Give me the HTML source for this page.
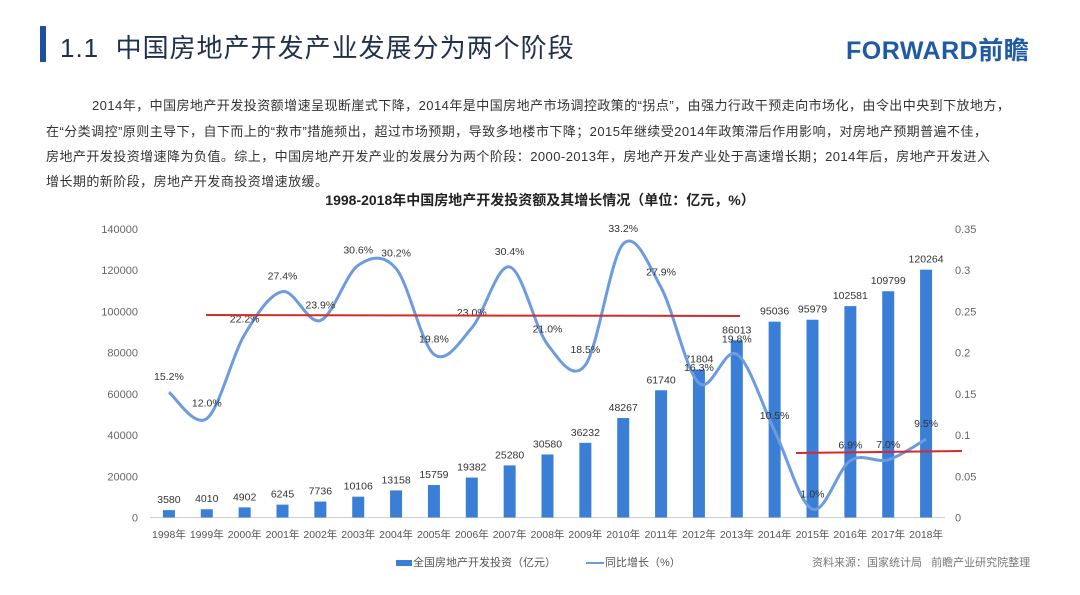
<!DOCTYPE html>
<html><head><meta charset="utf-8">
<style>
body{margin:0;width:1080px;height:595px;background:#fff;overflow:hidden;font-family:"Liberation Sans","Noto Sans CJK SC",sans-serif;position:relative}
.abs{position:absolute}
.pl{position:absolute;font-size:13px;color:#333;white-space:nowrap;letter-spacing:0.45px}
</style></head><body>
<div class="abs" style="left:40px;top:26px;width:6px;height:36px;background:#1f4fa0"></div>
<div class="abs" style="left:60px;top:28px;font-size:26px;color:#22304f;letter-spacing:1px;white-space:nowrap">1.1&nbsp;&nbsp;中国房地产开发产业发展分为两个阶段</div>
<div class="abs" style="left:846px;top:31px;font-size:25px;font-weight:bold;color:#1f5aa6;white-space:nowrap;letter-spacing:0.5px">FORWARD前瞻</div>
<div>
<div class="pl" style="left:92px;top:95px">2014年，中国房地产开发投资额增速呈现断崖式下降，2014年是中国房地产市场调控政策的“拐点”，由强力行政干预走向市场化，由令出中央到下放地方，</div>
<div class="pl" style="left:46px;top:121px">在“分类调控”原则主导下，自下而上的“救市”措施频出，超过市场预期，导致多地楼市下降；2015年继续受2014年政策滞后作用影响，对房地产预期普遍不佳，</div>
<div class="pl" style="left:46px;top:146px">房地产开发投资增速降为负值。综上，中国房地产开发产业的发展分为两个阶段：2000-2013年，房地产开发产业处于高速增长期；2014年后，房地产开发进入</div>
<div class="pl" style="left:46px;top:171px">增长期的新阶段，房地产开发商投资增速放缓。</div>
</div>
<div class="abs" style="left:0;width:1080px;top:190px;text-align:center;font-size:14px;font-weight:bold;color:#222">1998-2018年中国房地产开发投资额及其增长情况（单位：亿元，%）</div>
<svg class="abs" style="left:0;top:0" width="1080" height="595" id="chart"></svg>
<div class="abs" style="left:396px;top:554px;font-size:11px;color:#555;white-space:nowrap"><span style="display:inline-block;width:16px;height:6px;background:#3a7fd5;vertical-align:middle;margin-right:1px"></span>全国房地产开发投资（亿元）</div>
<div class="abs" style="left:586px;top:554px;font-size:11px;color:#555;white-space:nowrap"><span style="display:inline-block;width:18px;height:2px;background:#6c9be0;vertical-align:middle;margin-right:1px"></span>同比增长（%）</div>
<div class="abs" style="left:812px;top:554px;font-size:11px;color:#777;white-space:nowrap">资料来源：国家统计局&nbsp;&nbsp;&nbsp;前瞻产业研究院整理</div>
<script>
const categories=["1998年","1999年","2000年","2001年","2002年","2003年","2004年","2005年","2006年","2007年","2008年","2009年","2010年","2011年","2012年","2013年","2014年","2015年","2016年","2017年","2018年"];
const investment=[3580,4010,4902,6245,7736,10106,13158,15759,19382,25280,30580,36232,48267,61740,71804,86013,95036,95979,102581,109799,120264];
const growth=[15.2,12.0,22.2,27.4,23.9,30.6,30.2,19.8,23.0,30.4,21.0,18.5,33.2,27.9,16.3,19.8,10.5,1.0,6.9,7.0,9.5];
const leftTicks=[0,20000,40000,60000,80000,100000,120000,140000];
const rightTicks=["0","0.05","0.1","0.15","0.2","0.25","0.3","0.35"];
const ns="http://www.w3.org/2000/svg";
const svg=document.getElementById('chart');
const X0=150,X1=945,Y0=517.5,Y1=229;
const band=(X1-X0)/categories.length;
const xc=i=>X0+band*(i+0.5);
const yL=v=>Y0-v/140000*(Y0-Y1);
const yR=v=>Y0-v/0.35*(Y0-Y1);
function mk(t,a){const e=document.createElementNS(ns,t);for(const k in a)e.setAttribute(k,a[k]);svg.appendChild(e);return e;}
const ax=mk('line',{x1:X0,x2:X1,y1:Y0,y2:Y0,stroke:'#d0d0d0'});


leftTicks.forEach(v=>{const t=mk('text',{x:138,y:yL(v)+4,'text-anchor':'end','font-size':11,fill:'#666'});t.textContent=v;

});
rightTicks.forEach(v=>{const t=mk('text',{x:955,y:yR(parseFloat(v))+4,'font-size':11,fill:'#666'});t.textContent=v;

});
categories.forEach((c,i)=>{const t=mk('text',{x:xc(i),y:538,'text-anchor':'middle','font-size':10.5,fill:'#555'});t.textContent=c;

});
investment.forEach((v,i)=>{const r=mk('rect',{x:xc(i)-6,y:yL(v),width:12,height:Y0-yL(v),fill:'#3a7fd5'});


const t=mk('text',{x:xc(i),y:yL(v)-7,'text-anchor':'middle','font-size':10.5,fill:'#333'});t.textContent=v;

});
const pts=growth.map((g,i)=>[xc(i),yR(g/100)]);
let d='M'+pts[0][0]+','+pts[0][1];
for(let i=0;i<pts.length-1;i++){const p0=pts[Math.max(0,i-1)],p1=pts[i],p2=pts[i+1],p3=pts[Math.min(pts.length-1,i+2)];
const k=1/6;d+=` C${p1[0]+(p2[0]-p0[0])*k},${p1[1]+(p2[1]-p0[1])*k} ${p2[0]-(p3[0]-p1[0])*k},${p2[1]-(p3[1]-p1[1])*k} ${p2[0]},${p2[1]}`;}
const ln=mk('path',{d:d,fill:'none',stroke:'#6c9be0','stroke-width':3});


growth.forEach((g,i)=>{const t=mk('text',{x:xc(i),y:yR(g/100)-12,'text-anchor':'middle','font-size':10.5,fill:'#333'});t.textContent=g.toFixed(1)+'%';

});
const r1=mk('line',{x1:206,y1:315,x2:740,y2:316,stroke:'#d42a2a','stroke-width':2});


const r2=mk('line',{x1:796,y1:453,x2:962,y2:451,stroke:'#d42a2a','stroke-width':2});


</script>
</body></html>
